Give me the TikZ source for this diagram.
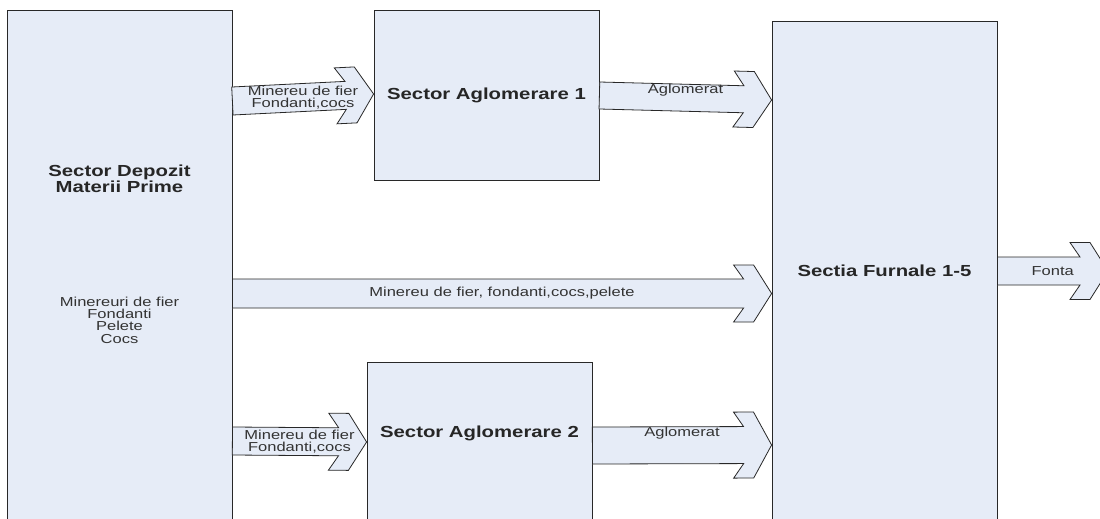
\documentclass[tikz,border=0pt]{standalone}
\usepackage{fontspec}
\setmainfont{Liberation Sans}[FakeStretch=1.27]
\usetikzlibrary{calc}
\definecolor{boxfill}{RGB}{230,236,247}
\definecolor{edge}{RGB}{40,40,40}
\tikzset{
  block/.style={draw=edge, fill=boxfill, line width=0.8pt, minimum width=225pt, inner sep=0pt},
  flow/.style={draw=edge, fill=boxfill, line width=0.8pt, line join=miter},
  title/.style={font=\fontsize{16}{14}\selectfont\bfseries, text=black!85, align=center, inner sep=0pt},
  lbl/.style={font=\fontsize{13}{12.3}\selectfont, text=black!80, align=center, inner sep=0pt}
}
% fat block arrow from #1 to tip #2, half body width #3, half head width #4
\newcommand{\fatarrow}[4]{%
  \coordinate (arrnotch) at ($(#2)!28pt!(#1)$);
  \coordinate (arrback) at ($(#2)!38pt!(#1)$);
  \coordinate (arrfront) at ($(#2)!18pt!(#1)$);
  \draw[flow] ($(#1)!#3!90:(#2)$) -- ($(arrnotch)!#3!-90:(#1)$)
    -- ($(arrback)!#4!-90:(#1)$) -- ($(arrfront)!#4!-90:(#1)$) -- (#2)
    -- ($(arrfront)!#4!90:(#1)$) -- ($(arrback)!#4!90:(#1)$)
    -- ($(arrnotch)!#3!90:(#1)$) -- ($(#1)!#3!-90:(#2)$) -- cycle;
}

\begin{document}
\begin{tikzpicture}[x=1pt,y=-1pt]
  \fill[white] (0,0) rectangle (1100,519);
  \useasboundingbox (0,0) rectangle (1100,519);

  % sectors
  \node[block, minimum height=520pt] (depot) at (119.5,270) {};
  \node[block, minimum height=170pt] (agl1) at (486.5,95) {};
  \node[block, minimum height=168pt] (agl2) at (479.5,446) {};
  \node[block, minimum height=509pt] (furn) at (884.5,275.5) {};

  \node[title] (depottitle) at (119.5,179) {Sector Depozit\\Materii Prime};
  \node[lbl] (depotlist) at (119.5,320) {Minereuri de fier\\Fondanti\\Pelete\\Cocs};
  \node[title] (agl1title) at (486.5,95) {Sector Aglomerare 1};
  \node[title] (agl2title) at (479.5,433) {Sector Aglomerare 2};
  \node[title] (furntitle) at (884.5,271) {Sectia Furnale 1-5};

  % flows
  \coordinate (in1s) at (depot.east |- 0,101);
  \coordinate (in1t) at (agl1.west |- 0,94);
  \coordinate (ag1s) at (agl1.east |- 0,95.5);
  \coordinate (ag1t) at (furn.west |- 0,100);
  \coordinate (mids) at (depot.east |- 0,293.5);
  \coordinate (midt) at (furn.west |- 0,293.5);
  \coordinate (in2s) at (depot.east |- 0,441);
  \coordinate (in2t) at (agl2.west |- 0,442);
  \coordinate (ag2s) at (agl2.east |- 0,445.5);
  \coordinate (ag2t) at (furn.west |- 0,445);
  \coordinate (fontas) at (furn.east |- 0,271);
  \coordinate (fontat) at (1108,271);

  \fatarrow{in1s}{in1t}{14pt}{28pt}
  \fatarrow{ag1s}{ag1t}{13.5pt}{28pt}
  \fatarrow{mids}{midt}{14.5pt}{28.5pt}
  \fatarrow{in2s}{in2t}{14pt}{28.5pt}
  \fatarrow{ag2s}{ag2t}{18.5pt}{33pt}
  \fatarrow{fontas}{fontat}{14pt}{28.5pt}

  \node[lbl] (in1lbl) at ($(in1s)!0.5!(in1t)$) {Minereu de fier\\Fondanti,cocs};
  \node[lbl, yshift=8pt] (ag1lbl) at ($(ag1s)!0.5!(ag1t)$) {Aglomerat};
  \node[lbl] (midlbl) at ($(mids)!0.5!(midt)$) {Minereu de fier, fondanti,cocs,pelete};
  \node[lbl] (in2lbl) at ($(in2s)!0.5!(in2t)$) {Minereu de fier\\Fondanti,cocs};
  \node[lbl, yshift=12pt] (ag2lbl) at ($(ag2s)!0.5!(ag2t)$) {Aglomerat};
  \node[lbl] (fontalbl) at ($(fontas)!0.5!(fontat)$) {Fonta};
\end{tikzpicture}
\end{document}
